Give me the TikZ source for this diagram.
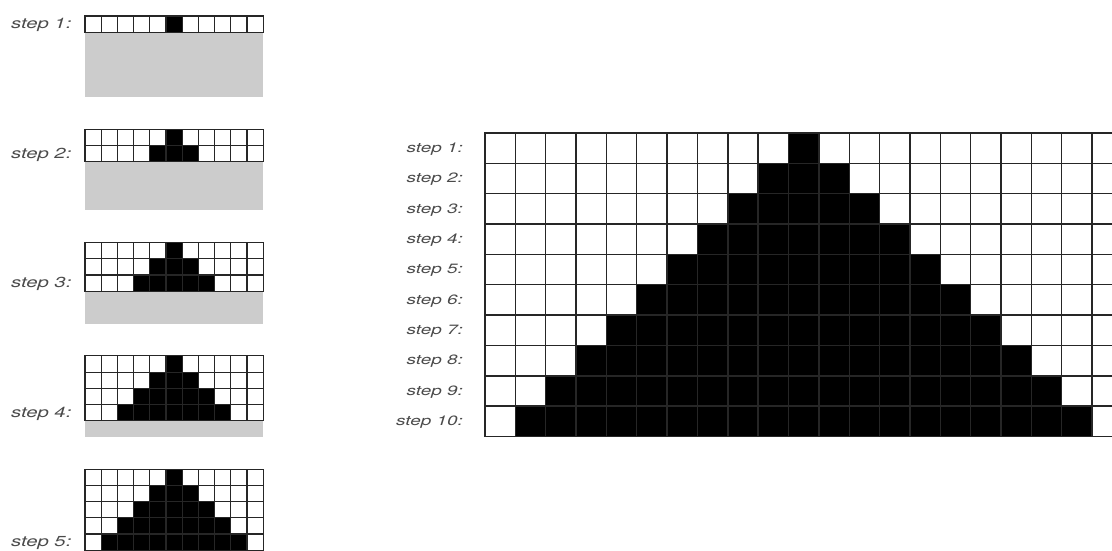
\documentclass[tikz,border=0pt]{standalone}
\usepackage{fontspec}
\setmainfont{TeX Gyre Heros}
\definecolor{labelgray}{HTML}{4A4A4A}
\definecolor{bodygray}{HTML}{CCCCCC}
\definecolor{gridline}{HTML}{262626}
\newcommand\widetext[1]{\scalebox{1.4}[1]{#1}}
\begin{document}
\begin{tikzpicture}[x=1pt,y=-1pt,
  smalllbl/.style={inner sep=0pt, anchor=west, text=labelgray, font=\fontsize{14.5}{14.5}\selectfont\itshape},
  biglbl/.style={inner sep=0pt, anchor=east, text=labelgray, font=\fontsize{13.5}{13.5}\selectfont\itshape},
  smallgrid/.style={draw=gridline, line width=1.1pt},
  biggrid/.style={draw=gridline, line width=1.4pt}]
\useasboundingbox (0,0) rectangle (1112,550);
\clip (0,0) rectangle (1112,550);
% ---- small panels ----
\def\s{16.2}
\foreach \k in {1,...,5} {
  \pgfmathsetmacro\tp{16+113.3*(\k-1)}
  \fill[bodygray] (85,\tp) rectangle (85+11*\s,\tp+5*\s);
  \fill[white] (85,\tp) rectangle (85+11*\s,\tp+\k*\s);
  \foreach \r in {1,...,\k} {
    \fill[black] (85+\s*6-\s*\r,\tp+\s*\r-\s) rectangle (85+\s*5+\s*\r,\tp+\s*\r);
  }
  \foreach \c in {0,...,11} {
    \draw[smallgrid] (85+\c*\s,\tp) -- (85+\c*\s,\tp+\k*\s);
  }
  \foreach \r in {0,...,\k} {
    \draw[smallgrid, line cap=rect] (85,\tp+\r*\s) -- (85+11*\s,\tp+\r*\s);
  }
  \node[smalllbl] (s\k) at (11,\tp+\k*\s-0.5*\s+1) {\widetext{step \k:}};
}
% ---- big grid ----
\def\bs{30.35}
\def\bx{485}
\def\by{133}
\fill[white] (\bx,\by) rectangle (\bx+21*\bs,\by+10*\bs);
\foreach \r in {1,...,10} {
  \fill[black] (\bx+11*\bs-\bs*\r,\by+\bs*\r-\bs) rectangle (\bx+10*\bs+\bs*\r,\by+\bs*\r);
  \node[biglbl] (b\r) at (463,\by+\bs*\r-0.5*\bs+1) {\widetext{step \r:}};
}
\foreach \c in {0,...,21} {
  \draw[biggrid] (\bx+\c*\bs,\by) -- (\bx+\c*\bs,\by+10*\bs);
}
\foreach \r in {0,...,10} {
  \draw[biggrid, line cap=rect] (\bx,\by+\r*\bs) -- (\bx+21*\bs,\by+\r*\bs);
}
\end{tikzpicture}
\end{document}
